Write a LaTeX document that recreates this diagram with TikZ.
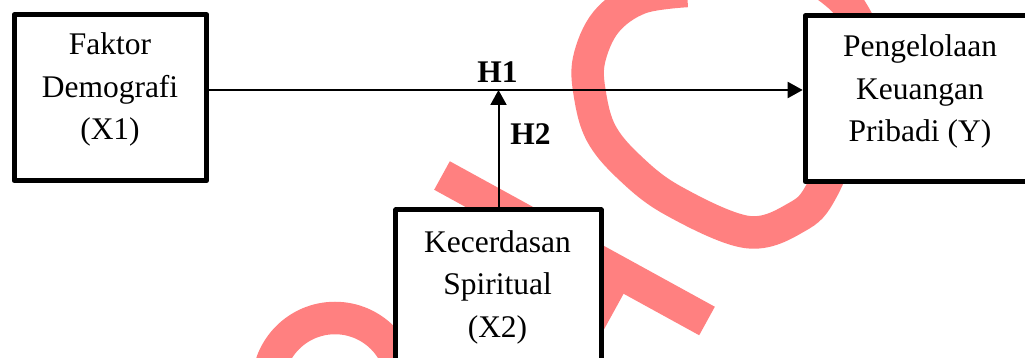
\documentclass[tikz,border=0pt]{standalone}
\usepackage{fontspec}
\setmainfont{Liberation Serif}
\usetikzlibrary{arrows.meta}
\definecolor{wm}{RGB}{255,128,128}
\begin{document}
\begin{tikzpicture}[x=1pt,y=-1pt,
  box/.style={draw,line width=5pt,fill=white,line join=round,inner sep=0pt},
  lbl/.style={anchor=base,inner sep=0pt,font=\fontsize{31.5}{42.5}\selectfont},
  hyp/.style={anchor=base,inner sep=0pt,font=\fontsize{31.5}{42.5}\selectfont\bfseries},
  arr/.style={line width=2pt,-{Triangle[length=15pt,width=16pt]}},
  wmstroke/.style={line width=32.5pt,draw=wm}]
\useasboundingbox (0,0) rectangle (1025,358);
\clip (0,0) rectangle (1025,358);
\fill[white] (0,0) rectangle (1025,358);
% watermark
\draw[wmstroke] (442,175.5) -- (707,321);
\draw[wmstroke] (617,272) -- (545,403);
\draw[wmstroke] plot[smooth,tension=0.6] coordinates {(687,-9) (640,-2) (606,22) (589,60) (590,95) (601,133) (628,166) (672,200) (747,232) (797,217) (822,190) (850,120) (865,50) (850,8) (825,-15)};
\draw[wmstroke] (335,385) circle[radius=67];
% boxes
\node[box,minimum width=192.6pt,minimum height=166pt] (X1) at (110.5,97.8) {};
\node[box,minimum width=229.6pt,minimum height=166pt] (Y) at (920,98.8) {};
\node[box,minimum width=205.4pt,minimum height=166pt] (X2) at (498.5,292.8) {};
\node[lbl] (tX1) at (110,55) {\begin{tabular}[t]{@{}c@{}}Faktor\\Demografi\\(X1)\end{tabular}};
\node[lbl] (tY) at (920,57) {\begin{tabular}[t]{@{}c@{}}Pengelolaan\\Keuangan\\Pribadi (Y)\end{tabular}};
\node[lbl] (tX2) at (497.5,252) {\begin{tabular}[t]{@{}c@{}}Kecerdasan\\Spiritual\\(X2)\end{tabular}};
% connectors
\coordinate (j) at (498.5,90);
\draw[arr] (X1.east |- j) -- (Y.west |- j);
\draw[arr] (X2.north -| j) -- (j);
\node[hyp] (H1) at (497.5,83) {H1};
\node[hyp] (H2) at (530.5,145) {H2};
\end{tikzpicture}
\end{document}
